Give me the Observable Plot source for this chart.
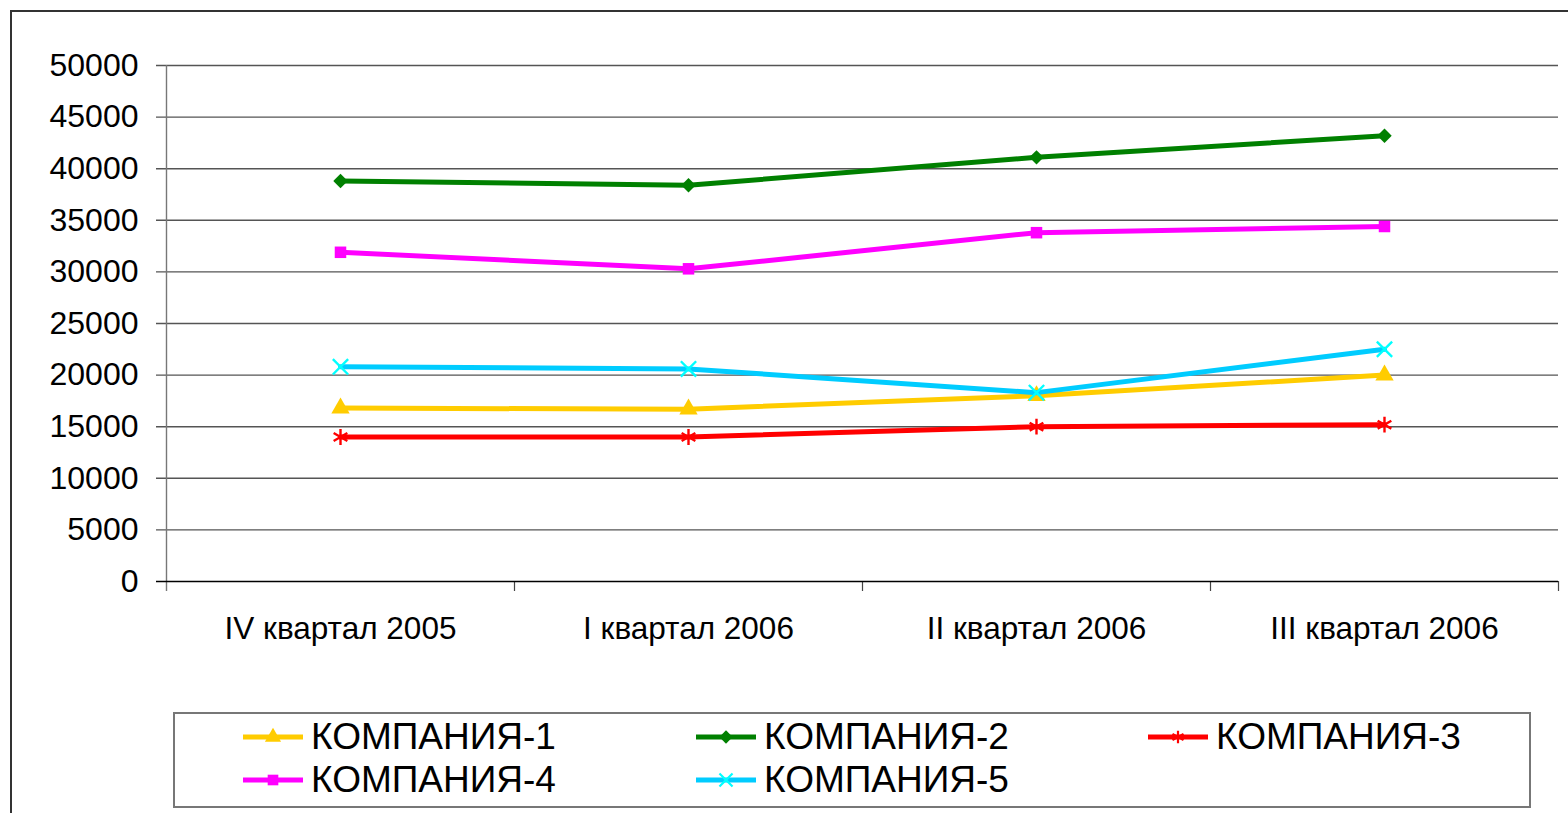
<!DOCTYPE html>
<html>
<head>
<meta charset="utf-8">
<script src="https://cdn.jsdelivr.net/npm/d3@7"></script>
<script src="https://cdn.jsdelivr.net/npm/@observablehq/plot@0.6"></script>
<style>
  html, body { margin: 0; padding: 0; background: #fff; overflow: hidden; }
  #wrap { position: relative; width: 1568px; height: 813px; overflow: hidden; font-family: "Liberation Sans", Arial, sans-serif; }
  #frame { position: absolute; left: 10px; top: 10px; width: 1600px; height: 900px; border: 2px solid #333; box-sizing: border-box; }
  #chart { position: absolute; left: 0; top: 0; }
  #legend { position: absolute; left: 173px; top: 712px; width: 1358px; height: 96px; border: 2px solid #777; box-sizing: border-box; }
  .item { position: absolute; display: flex; align-items: center; height: 40px; }
  .item span { font-size: 37px; color: #000; margin-left: 8px; line-height: 40px; }
</style>
</head>
<body>
<div id="wrap">
  <div id="frame"></div>
  <div id="chart"></div>
  <div id="legend"></div>
</div>
<script>
const quarters = ["IV квартал 2005", "I квартал 2006", "II квартал 2006", "III квартал 2006"];
const seriesNames = ["КОМПАНИЯ-1", "КОМПАНИЯ-2", "КОМПАНИЯ-3", "КОМПАНИЯ-4", "КОМПАНИЯ-5"];
const company1 = [16800, 16700, 18000, 20000];
const company2 = [38800, 38400, 41100, 43200];
const company3 = [14000, 14000, 15000, 15200];
const company4 = [31900, 30300, 33800, 34400];
const company5 = [20800, 20600, 18300, 22500];
const yTicks = [0, 5000, 10000, 15000, 20000, 25000, 30000, 35000, 40000, 45000, 50000];

const lineColors = ["#FFCC00", "#008000", "#FF0000", "#FF00FF", "#00CCFF"];
const markerColors = ["#FFCC00", "#008000", "#FF0000", "#FF00FF", "#00FFFF"];
const markerSymbols = ["triangle", "diamond2", "asterisk", "square", "times"];
const markerFilled = [true, true, false, true, false];
const markerR = [6.8, 6.5, 7.5, 6.5, 7];

const allValues = [company1, company2, company3, company4, company5];
const data = [];
seriesNames.forEach((s, si) => allValues[si].forEach((v, qi) => data.push({s, si, q: quarters[qi], v})));

const W = 1568, H = 661, mL = 166, mR = 10, mT = 65, mB = 80;
const halfStep = (W - mL - mR) / quarters.length / 2;

const marks = [
  Plot.ruleY(yTicks.filter(t => t !== 0), {y: d => d, stroke: "#555", strokeWidth: 1.4, insetLeft: -10}),
  Plot.ruleX([quarters[0]], {x: d => d, dx: -halfStep, y1: 50000, y2: 0, insetBottom: -10, stroke: "#777", strokeWidth: 1.4}),
  Plot.ruleX(quarters, {x: d => d, dx: halfStep, y1: 0, y2: 0, insetBottom: -10, stroke: "#444", strokeWidth: 1.2}),
  Plot.ruleY([0], {y: d => d, stroke: "#000", strokeWidth: 1.5, insetLeft: -10}),
  Plot.axisY({ticks: yTicks, tickSize: 0, tickPadding: 28, fontSize: 32, fill: "#000", label: null, tickFormat: d => String(d)}),
  Plot.axisX({tickSize: 0, tickPadding: 35, fontSize: 31.5, fill: "#000", label: null})
];
seriesNames.forEach((s, si) => {
  const d = data.filter(r => r.si === si);
  marks.push(Plot.line(d, {x: "q", y: "v", stroke: lineColors[si], strokeWidth: 5}));
  marks.push(Plot.dot(d, {
    x: "q", y: "v", symbol: () => markerSymbols[si], r: markerR[si],
    fill: markerFilled[si] ? markerColors[si] : "none",
    stroke: markerFilled[si] ? "none" : markerColors[si],
    strokeWidth: markerFilled[si] ? 0 : 2.4
  }));
});

const chart = Plot.plot({
  width: W, height: H,
  marginLeft: mL, marginRight: mR, marginTop: mT, marginBottom: mB,
  x: {type: "point", domain: quarters, padding: 0.5},
  y: {domain: [0, 50000]},
  style: {fontFamily: "'Liberation Sans', Arial, sans-serif", background: "transparent", color: "#000"},
  marks
});
document.getElementById("chart").appendChild(chart);

// legend
const legend = document.getElementById("legend");
const colX = [243, 696, 1148];
const rowY = [737, 780];
const symMap = {triangle: d3.symbolTriangle, diamond2: d3.symbolDiamond2, asterisk: d3.symbolAsterisk, square: d3.symbolSquare, times: d3.symbolTimes};
seriesNames.forEach((s, si) => {
  const col = si % 3, row = Math.floor(si / 3);
  const item = document.createElement("div");
  item.className = "item";
  item.style.left = (colX[col] - 173 - 2) + "px";
  item.style.top = (rowY[row] - 712 - 2 - 20) + "px";
  const svg = d3.create("svg").attr("width", 60).attr("height", 20);
  svg.append("line").attr("x1", 0).attr("x2", 60).attr("y1", 10).attr("y2", 10)
    .attr("stroke", lineColors[si]).attr("stroke-width", 5);
  svg.append("path").attr("transform", "translate(30,10)")
    .attr("d", d3.symbol(symMap[markerSymbols[si]], Math.PI * 6 * 6)())
    .attr("fill", markerFilled[si] ? markerColors[si] : "none")
    .attr("stroke", markerFilled[si] ? "none" : markerColors[si])
    .attr("stroke-width", 2.2);
  item.appendChild(svg.node());
  const t = document.createElement("span");
  t.textContent = s;
  item.appendChild(t);
  legend.appendChild(item);
});
</script>
</body>
</html>
